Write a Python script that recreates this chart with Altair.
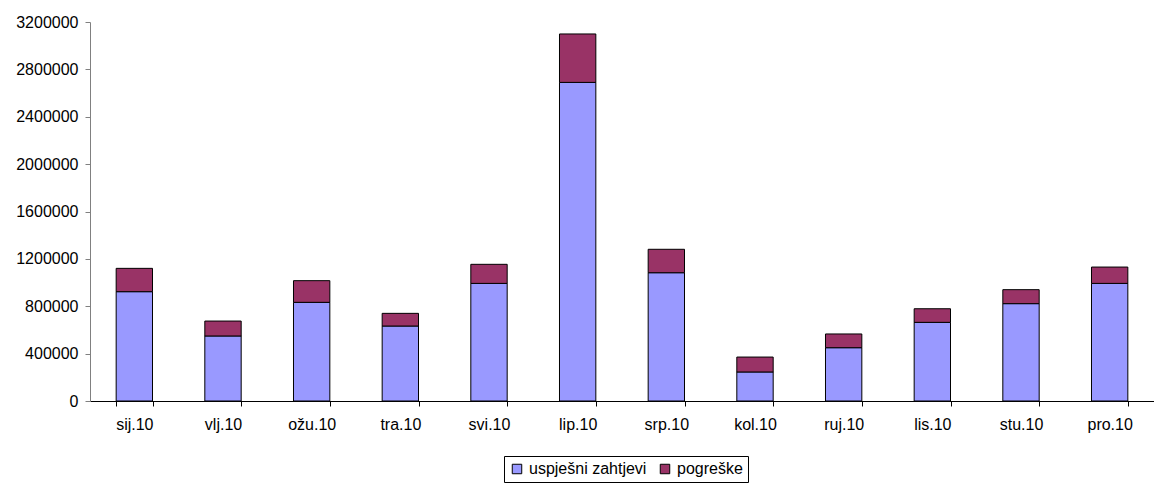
import altair as alt
import pandas as pd

months = ["sij.10", "vlj.10", "ožu.10", "tra.10", "svi.10", "lip.10",
          "srp.10", "kol.10", "ruj.10", "lis.10", "stu.10", "pro.10"]
uspjesni = [923000, 549000, 833000, 633000, 993000, 2690000,
            1083000, 245000, 450000, 664000, 822000, 993000]
pogreske = [197000, 126000, 183000, 107000, 161000, 409000,
            198000, 126000, 116000, 115000, 118000, 138000]
series = ["uspješni zahtjevi", "pogreške"]
colors = ["#9999FF", "#993366"]

rows = []
for m, u, p in zip(months, uspjesni, pogreske):
    rows.append({"mjesec": m, "serija": series[0], "vrijednost": u, "ord": 0})
    rows.append({"mjesec": m, "serija": series[1], "vrijednost": p, "ord": 1})
df = pd.DataFrame(rows)

FONT = "Liberation Sans"

chart = alt.Chart(df).mark_bar(stroke="black", strokeWidth=1).encode(
    x=alt.X("mjesec:N", sort=months,
            scale=alt.Scale(paddingInner=0.59, paddingOuter=0.295),
            axis=alt.Axis(title=None, labelAngle=0, tickBand="extent",
                          tickSize=5, labelPadding=10, domainColor="#000000",
                          tickColor="#000000", labelFontSize=16,
                          labelColor="#000000", labelFont=FONT)),
    y=alt.Y("vrijednost:Q", stack="zero",
            scale=alt.Scale(domain=[0, 3200000], nice=False),
            axis=alt.Axis(title=None, values=list(range(0, 3200001, 400000)),
                          format="d", grid=False, tickSize=5, labelPadding=7,
                          domainColor="#808080", tickColor="#808080",
                          labelFontSize=16, labelColor="#000000",
                          labelFont=FONT)),
    color=alt.Color("serija:N",
                    scale=alt.Scale(domain=series, range=colors),
                    legend=alt.Legend(title=None, orient="none",
                                      direction="horizontal",
                                      legendX=414, legendY=434,
                                      symbolType="square", symbolSize=90,
                                      symbolStrokeColor="black",
                                      symbolStrokeWidth=1,
                                      labelFontSize=16, labelFont=FONT,
                                      labelColor="#000000",
                                      strokeColor="#000000", padding=5,
                                      columnPadding=10, labelOffset=4)),
    order=alt.Order("ord:Q"),
).properties(
    width=1064, height=379,
    autosize=alt.AutoSizeParams(type="none"),
    padding={"left": 82, "top": 14, "right": 0, "bottom": 82},
).configure_view(stroke=None)

chart.save("out.html", embed_options={"renderer": "svg", "actions": False})
